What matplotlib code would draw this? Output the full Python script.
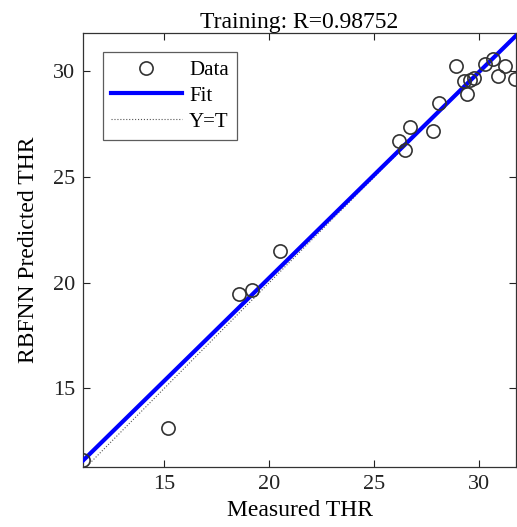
import matplotlib.pyplot as plt
import numpy as np

plt.rcParams['font.family'] = ['Liberation Serif', 'DejaVu Serif']

# measured (target) vs RBFNN predicted THR
measured = [11.15, 15.2, 18.57, 19.2, 20.52, 26.19, 26.47, 26.7, 27.78, 28.08,
            28.89, 29.29, 29.56, 29.75, 29.43, 30.27, 30.67, 31.22, 30.9, 31.7]
predicted = [11.64, 13.11, 19.49, 19.65, 21.49, 26.69, 26.27, 27.37, 27.18, 28.51,
             30.25, 29.54, 29.59, 29.67, 28.91, 30.33, 30.57, 30.25, 29.78, 29.62]
r_value = 0.98752
# fit line (output ~ slope*target + offset)
fit_slope = 0.975
fit_offset = 0.73
x_lim = (11.15, 31.75)
y_lim = (11.3, 31.8)
ticks = [15, 20, 25, 30]

fig = plt.figure(figsize=(5.17, 5.27), dpi=100)
ax = fig.add_axes([0.161, 0.1144, 0.837, 0.8224])

x = np.array(measured)
y = np.array(predicted)
xx = np.array(x_lim)

ax.plot(x, y, 'o', mfc='none', mec='#333333', ms=9.5, mew=1.2, label='Data', zorder=4)
ax.plot(xx, fit_slope * xx + fit_offset, '-', color='#0000ff', lw=3, label='Fit', zorder=3)
ax.plot(xx, xx, ':', color='#555555', lw=0.8, label='Y=T', zorder=2)

ax.set_xlim(x_lim)
ax.set_ylim(y_lim)
ax.set_xticks(ticks)
ax.set_yticks(ticks)
ax.tick_params(direction='in', top=True, right=True, length=5, width=0.8,
               labelsize=16, colors='#222222', pad=6)
for s in ax.spines.values():
    s.set_color('#333333')
    s.set_linewidth(0.9)

ax.set_title('Training: R=%.5f' % r_value, fontsize=17, pad=4)
ax.set_xlabel('Measured THR', fontsize=17, labelpad=4)
ax.set_ylabel('RBFNN Predicted THR', fontsize=17, labelpad=10)

leg = ax.legend(loc='upper left', bbox_to_anchor=(0.045, 0.957), fontsize=15,
                frameon=True, fancybox=False, handlelength=3.4, handletextpad=0.35,
                borderpad=0.4, labelspacing=0.3, borderaxespad=0)
leg.get_frame().set_edgecolor('#333333')
leg.get_frame().set_linewidth(0.9)

plt.savefig('out.png', dpi=100)
